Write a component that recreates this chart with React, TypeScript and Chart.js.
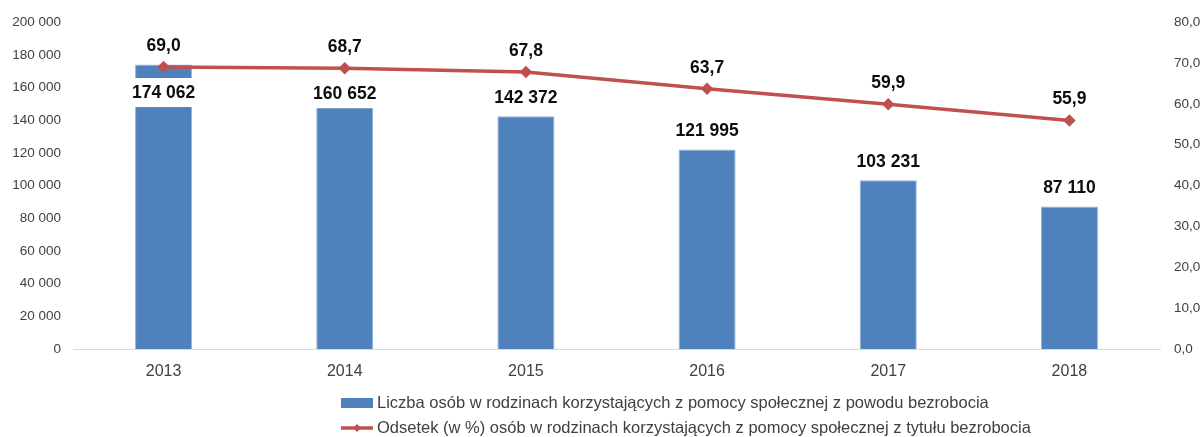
import React, { useEffect, useRef } from "react";
import { Chart, registerables } from "chart.js";

Chart.register(...registerables);

const years = ["2013", "2014", "2015", "2016", "2017", "2018"];
const persons = [174062, 160652, 142372, 121995, 103231, 87110];
const percent = [69.0, 68.7, 67.8, 63.7, 59.9, 55.9];
const barSeriesLabel =
  "Liczba osób w rodzinach korzystających z pomocy społecznej z powodu bezrobocia";
const lineSeriesLabel =
  "Odsetek (w %) osób w rodzinach korzystających z pomocy społecznej z tytułu bezrobocia";
const leftAxisMax = 200000;
const leftAxisStep = 20000;
const rightAxisMax = 80;
const rightAxisStep = 10;

const FONT = "'Liberation Sans', Arial, sans-serif";
const BAR_COLOR = "#4f81bd";
const LINE_COLOR = "#c0504d";
const TEXT_COLOR = "#404040";
const LABEL_COLOR = "#0d0d0d";

const fmtInt = (v: number) =>
  String(Math.round(v)).replace(/\B(?=(\d{3})+(?!\d))/g, " ");
const fmtPct = (v: number) => Number(v).toFixed(1).replace(".", ",");

const valueLabels = {
  id: "valueLabels",
  afterDatasetsDraw(chart: any) {
    const ctx = chart.ctx;
    const barMeta = chart.getDatasetMeta(0);
    const lineMeta = chart.getDatasetMeta(1);
    const barData = chart.data.datasets[0].data;
    const lineData = chart.data.datasets[1].data;
    ctx.save();
    ctx.font = `bold 17.5px ${FONT}`;
    ctx.textAlign = "center";
    ctx.textBaseline = "middle";
    barMeta.data.forEach((bar: any, i: number) => {
      const pt = lineMeta.data[i];
      let y = bar.y - 18;
      const belowLine = pt.y + 26;
      if (y < belowLine) y = belowLine;
      if (y + 14 > bar.y) {
        ctx.fillStyle = "#ffffff";
        ctx.fillRect(bar.x - bar.width / 2 - 1, y - 15, bar.width + 2, 29);
      }
      ctx.fillStyle = LABEL_COLOR;
      ctx.fillText(fmtInt(barData[i]), bar.x, y);
    });
    lineMeta.data.forEach((pt: any, i: number) => {
      ctx.fillStyle = LABEL_COLOR;
      ctx.fillText(fmtPct(lineData[i]), pt.x, pt.y - 21);
    });
    ctx.restore();
  },
};

const customLegend = {
  id: "customLegend",
  afterDraw(chart: any) {
    const ctx = chart.ctx;
    const left = 341;
    const row1 = 403;
    const row2 = 428;
    ctx.save();
    ctx.fillStyle = BAR_COLOR;
    ctx.fillRect(left, row1 - 5, 32, 10);
    ctx.strokeStyle = LINE_COLOR;
    ctx.lineWidth = 3.5;
    ctx.beginPath();
    ctx.moveTo(left, row2);
    ctx.lineTo(left + 32, row2);
    ctx.stroke();
    ctx.fillStyle = LINE_COLOR;
    ctx.beginPath();
    const cx = left + 16;
    ctx.moveTo(cx, row2 - 4);
    ctx.lineTo(cx + 4, row2);
    ctx.lineTo(cx, row2 + 4);
    ctx.lineTo(cx - 4, row2);
    ctx.closePath();
    ctx.fill();
    ctx.font = `16.5px ${FONT}`;
    ctx.fillStyle = TEXT_COLOR;
    ctx.textAlign = "left";
    ctx.textBaseline = "middle";
    ctx.fillText(chart.data.datasets[0].label, left + 36, row1);
    ctx.fillText(chart.data.datasets[1].label, left + 36, row2);
    ctx.restore();
  },
};

export default function App() {
  const ref = useRef<HTMLCanvasElement | null>(null);

  useEffect(() => {
    if (!ref.current) return;
    const chart = new Chart(ref.current, {
      type: "bar",
      data: {
        labels: years,
        datasets: [
          {
            type: "bar",
            label: barSeriesLabel,
            data: persons,
            backgroundColor: BAR_COLOR,
            borderColor: "#95b3d7",
            borderWidth: 1,
            categoryPercentage: 0.315,
            barPercentage: 1,
            yAxisID: "y",
            order: 1,
          },
          {
            type: "line",
            label: lineSeriesLabel,
            data: percent,
            borderColor: LINE_COLOR,
            backgroundColor: LINE_COLOR,
            borderWidth: 3.5,
            pointStyle: "rectRot",
            pointRadius: 3.8,
            pointBackgroundColor: LINE_COLOR,
            pointBorderColor: LINE_COLOR,
            tension: 0,
            yAxisID: "y1",
            order: 0,
          } as any,
        ],
      },
      options: {
        responsive: false,
        animation: false,
        devicePixelRatio: 1,
        layout: { padding: { top: 21, left: 0, right: 0, bottom: 0 } },
        plugins: {
          legend: { display: false },
          tooltip: { enabled: false },
        },
        scales: {
          x: {
            grid: { display: false, drawTicks: false },
            border: { display: true, color: "#d9d9d9", width: 1 },
            ticks: {
              font: { family: FONT, size: 16 },
              color: TEXT_COLOR,
              padding: 13,
            },
            afterFit: (s: any) => {
              s.height = 88;
            },
          },
          y: {
            position: "left",
            min: 0,
            max: leftAxisMax,
            grid: { display: false, drawTicks: false },
            border: { display: false },
            ticks: {
              stepSize: leftAxisStep,
              callback: (v: any) => fmtInt(Number(v)),
              font: { family: FONT, size: 13.5 },
              color: TEXT_COLOR,
              padding: 12,
            },
            afterFit: (s: any) => {
              s.width = 73;
            },
          },
          y1: {
            position: "right",
            min: 0,
            max: rightAxisMax,
            grid: { display: false, drawTicks: false },
            border: { display: false },
            ticks: {
              stepSize: rightAxisStep,
              callback: (v: any) => fmtPct(Number(v)),
              font: { family: FONT, size: 13.5 },
              color: TEXT_COLOR,
              padding: 14,
            },
            afterFit: (s: any) => {
              s.width = 43;
            },
          },
        },
      } as any,
      plugins: [valueLabels, customLegend],
    });
    return () => chart.destroy();
  }, []);

  return (
    <div
      style={{
        position: "fixed",
        left: 0,
        top: 0,
        width: 1203,
        height: 437,
        background: "#ffffff",
      }}
    >
      <canvas ref={ref} width={1203} height={437} />
    </div>
  );
}
